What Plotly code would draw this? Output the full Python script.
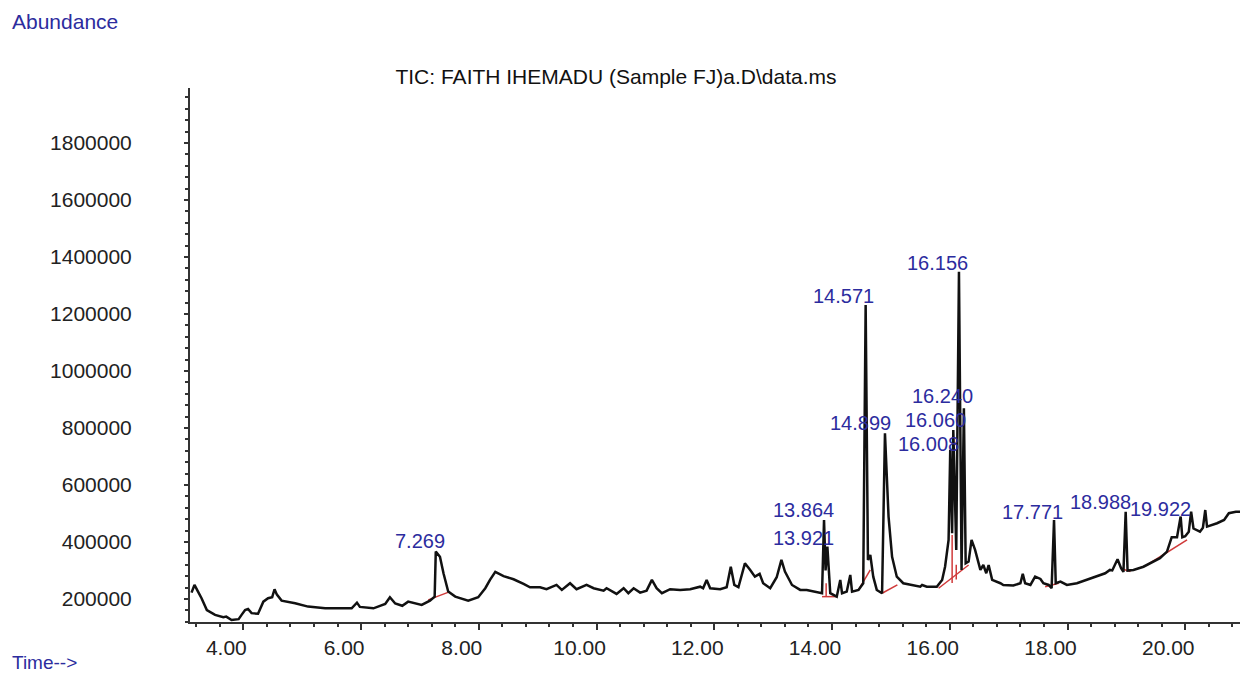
import plotly.graph_objects as go

# ---- data ----
time_min = [
    3.12, 3.17, 3.23, 3.29, 3.38, 3.52, 3.66, 3.71, 3.80, 3.92, 3.97, 4.03, 4.08, 4.14, 4.25,
    4.34, 4.42, 4.49, 4.53, 4.57, 4.65, 4.88, 5.10, 5.39, 5.84, 5.93, 5.98, 6.12, 6.21, 6.41,
    6.49, 6.58, 6.70, 6.80, 6.92, 7.03, 7.17, 7.25, 7.269, 7.34, 7.40, 7.48, 7.60, 7.82, 7.99,
    8.11, 8.19, 8.28, 8.42, 8.59, 8.76, 8.87, 9.04, 9.15, 9.32, 9.41, 9.55, 9.66, 9.83, 9.95,
    10.12, 10.17, 10.34, 10.46, 10.54, 10.63, 10.74, 10.85, 10.94, 11.02, 11.11, 11.25, 11.42,
    11.59, 11.76, 11.81, 11.87, 11.93, 12.10, 12.21, 12.28, 12.34, 12.41, 12.52, 12.61, 12.69,
    12.77, 12.83, 12.95, 13.06, 13.14, 13.20, 13.32, 13.46, 13.57, 13.74, 13.83, 13.864, 13.89,
    13.921, 13.97, 14.08, 14.14, 14.17, 14.25, 14.31, 14.34, 14.45, 14.53, 14.571, 14.61, 14.65,
    14.70, 14.76, 14.85, 14.899, 14.96, 15.02, 15.10, 15.21, 15.38, 15.50, 15.53, 15.61, 15.78,
    15.87, 15.92, 15.98, 16.008, 16.04, 16.060, 16.11, 16.156, 16.20, 16.240, 16.27, 16.32,
    16.37, 16.43, 16.52, 16.57, 16.62, 16.66, 16.72, 16.86, 16.91, 17.08, 17.20, 17.24, 17.28,
    17.37, 17.45, 17.54, 17.59, 17.68, 17.73, 17.771, 17.80, 17.88, 17.99, 18.16, 18.33, 18.50,
    18.64, 18.72, 18.76, 18.85, 18.91, 18.95, 18.988, 19.02, 19.12, 19.29, 19.46, 19.57, 19.69,
    19.77, 19.86, 19.922, 19.95, 20.00, 20.06, 20.10, 20.14, 20.25, 20.30, 20.34, 20.37, 20.54,
    20.66, 20.74, 20.86, 20.93,
]
abundance = [
    222000, 249000, 225600, 202500, 161000, 144000, 136000, 138000, 126000, 129000, 144000,
    161000, 165000, 150000, 148000, 190500, 202500, 206000, 234000, 215000, 194000, 185000,
    173000, 167000, 167000, 187000, 172000, 170000, 167000, 182500, 206000, 184000, 176000,
    190500, 184000, 179000, 194000, 208000, 366000, 348000, 290000, 225600, 208000, 194000,
    206000, 237500, 266700, 295000, 280000, 269000, 252600, 241000, 241000, 234000, 249000,
    231500, 255000, 234000, 249000, 237500, 229000, 237500, 217500, 237500, 220000, 237500,
    222000, 229000, 266700, 237500, 220000, 234000, 231500, 234000, 243000, 237500, 266700,
    237500, 234000, 241000, 313000, 249000, 241000, 325000, 301700, 278000, 287700, 255000,
    237500, 276000, 337000, 295800, 249000, 231500, 231500, 225600, 220000, 477000, 300000,
    383500, 220000, 208000, 266700, 220000, 225600, 284000, 225600, 231500, 255000, 1231600,
    337000, 354000, 278000, 231500, 220000, 781000, 489000, 348000, 278000, 255000, 249000,
    243000, 249000, 243000, 243000, 266700, 313000, 407000, 723000, 430500, 793000, 372000,
    1348500, 301700, 869000, 325000, 331000, 407000, 372000, 301700, 319000, 290000, 319000,
    266700, 255000, 249000, 247000, 255000, 287700, 255000, 249000, 278000, 270000, 255000,
    249000, 237500, 477000, 255000, 260700, 249000, 255000, 266700, 278000, 290000, 301700,
    300000, 339000, 307700, 295000, 506000, 299500, 301700, 313000, 331000, 343000, 366000,
    416500, 416500, 489000, 416500, 420000, 436000, 506000, 447000, 436000, 450000, 512000,
    453700, 465600, 477000, 500700, 506000, 506000,
]

# labelled peaks: retention time label, apex abundance
peak_labels = ["7.269", "13.864", "13.921", "14.571", "14.899", "16.008",
               "16.060", "16.156", "16.240", "17.771", "18.988", "19.922"]
peak_rt = [7.269, 13.864, 13.921, 14.571, 14.899, 16.008,
           16.060, 16.156, 16.240, 17.771, 18.988, 19.922]
peak_height = [366000, 477000, 383500, 1231600, 781000, 723000,
               793000, 1348500, 869000, 477000, 506000, 489000]

# integration baselines (start time, start abundance, end time, end abundance)
base_t0 = [7.14, 13.83, 13.90, 14.45, 14.85, 15.81, 16.04, 16.11, 17.62, 18.93, 19.35]
base_v0 = [196500, 208000, 207000, 231500, 220000, 237500, 256000, 268000, 243000, 305000, 319000]
base_t1 = [7.51, 14.08, 13.90, 14.65, 15.11, 16.32, 16.04, 16.11, 17.85, 19.07, 20.03]
base_v1 = [225600, 208000, 255000, 301700, 249000, 319000, 424600, 320000, 255000, 296000, 407000]

y_ticks = [200000, 400000, 600000, 800000, 1000000, 1200000, 1400000, 1600000, 1800000]

# label offsets in pixels (dx, dy) relative to each peak apex
label_dx = [-16, -21, -24, -22, -24, -22, -18, -21, -21, -22, -25, -20]
label_dy = [11, 10, 9, 9, 10, 6, 10, 9, 12, 8, 10, 8]

FONT = "Liberation Sans, Arial, sans-serif"
BLUE = "#2c2c9e"

fig = go.Figure()

bx, by = [], []
for a, b, c, d in zip(base_t0, base_v0, base_t1, base_v1):
    bx += [a, c, None]
    by += [b, d, None]
fig.add_trace(go.Scatter(x=bx, y=by, mode="lines",
                         line=dict(color="#d03a3a", width=1.5), hoverinfo="skip"))

fig.add_trace(go.Scatter(x=time_min, y=abundance, mode="lines",
                         line=dict(color="#111111", width=2.5)))

for lab, rt, h, dx, dy in zip(peak_labels, peak_rt, peak_height, label_dx, label_dy):
    fig.add_annotation(x=rt, y=h, text=lab, showarrow=False, xanchor="center",
                       yanchor="middle", xshift=dx, yshift=dy, borderpad=0,
                       font=dict(family=FONT, size=20, color=BLUE))

fig.add_annotation(xref="paper", yref="paper", x=(10 - 190) / 1050, y=(622 - 22) / 534,
                   text="Abundance", showarrow=False, xanchor="left", yanchor="middle",
                   font=dict(family=FONT, size=21, color=BLUE))
fig.add_annotation(xref="paper", yref="paper", x=(10 - 190) / 1050, y=(622 - 662) / 534,
                   text="Time-->", showarrow=False, xanchor="left", yanchor="middle",
                   font=dict(family=FONT, size=19, color=BLUE))

fig.update_layout(
    width=1240, height=673,
    margin=dict(l=190, r=0, t=88, b=51),
    paper_bgcolor="white", plot_bgcolor="white",
    showlegend=False,
    title=dict(text="TIC: FAITH IHEMADU (Sample FJ)a.D\\data.ms",
               x=616 / 1240, xanchor="center", y=1 - 77 / 673, yanchor="middle",
               font=dict(family=FONT, size=21, color="#111111")),
    xaxis=dict(range=[3.094, 20.93], tickmode="linear", tick0=0, dtick=2,
               tickformat=".2f", ticks="outside", ticklen=6, tickwidth=1.5,
               tickcolor="#333", showline=True, linecolor="#333", linewidth=2,
               showgrid=False, zeroline=False, ticklabelshift=-17,
               tickfont=dict(family=FONT, size=21, color="#222"),
               minor=dict(tick0=0, dtick=0.4, ticks="outside", ticklen=3,
                          tickcolor="#333", showgrid=False)),
    yaxis=dict(range=[119000, 1993000], tickmode="array", tickvals=y_ticks,
               ticktext=[str(v) for v in y_ticks], ticks="outside", ticklen=4,
               tickwidth=1.5, tickcolor="#333", showline=True, linecolor="#333",
               linewidth=2, showgrid=False, zeroline=False, ticklabelstandoff=48,
               tickfont=dict(family=FONT, size=21, color="#222"),
               minor=dict(tick0=0, dtick=40000, ticks="outside", ticklen=3,
                          tickcolor="#333", showgrid=False)),
)

fig.write_html("out.html")
